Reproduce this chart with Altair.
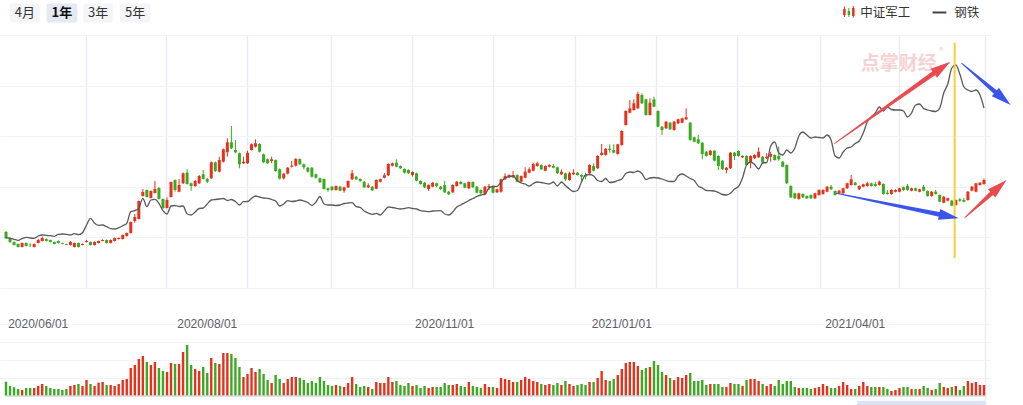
import math
import numpy as np
import pandas as pd
import altair as alt

# ---------------- data ----------------
OPEN = [
    68, 62, 58, 56, 53, 57, 55.3, 53, 57, 59,
    61, 60, 58, 59, 57, 56, 55, 53, 57, 55,
    58, 58, 55, 57, 59, 60, 57, 59, 61, 61,
    64, 67, 79, 81, 104, 110, 102, 107, 112, 101,
    92, 103, 120, 108.3, 116.7, 127.3, 116.7, 114, 116.7, 125.7,
    121, 121.7, 137.7, 128.3, 138.3, 147.7, 157.7, 150, 146.7, 136.7,
    136.7, 150, 153.3, 156, 145.7, 140.7, 139, 140, 130.7, 121.7,
    126.3, 133.3, 134.3, 141, 135.7, 132.3, 132.3, 125.7, 121.7, 121,
    111.7, 113.3, 110, 113.3, 109.3, 112.7, 120.7, 123.3, 121, 118.3,
    112.7, 113.3, 111.3, 118.3, 122.3, 124.7, 134.3, 137.3, 134, 131,
    130, 125, 126.7, 119, 117.3, 111, 113.3, 116.7, 113.3, 115,
    108.3, 107.7, 114, 118, 116.7, 111.7, 118, 113.3, 110, 106,
    112.7, 114, 107.7, 108.3, 120.7, 122.7, 122.7, 125, 118.3, 122.3,
    127.3, 129.3, 134, 135, 129.3, 133.3, 134, 132.7, 125.7, 126.7,
    120, 125.7, 127.3, 125, 125, 126.7, 134, 131.7, 145, 145,
    151.3, 150, 146, 155, 175, 187.3, 190, 191.7, 205, 200.7,
    185, 200.7, 189, 173.3, 171.7, 177.3, 170, 176.7, 177.3, 180.7,
    177.3, 162.7, 160.7, 157.3, 148.3, 145, 149.3, 144, 139.3, 130,
    131.7, 147.3, 149, 142.7, 144, 137.3, 141.7, 142.7, 143.3, 141.7,
    143.3, 145, 144, 138.3, 135, 114, 106.7, 101, 106, 104,
    105, 101.7, 105, 106, 108.3, 113.3, 109, 106.7, 106.7, 111.7,
    115, 117.3, 110.7, 113.3, 114, 116.7, 116, 115, 116, 107.3,
    106, 108.3, 108.3, 112.7, 114, 109.3, 111.7, 108.3, 113.3, 109,
    104, 108.3, 105, 97.3, 99.3, 99.3, 95, 100.7, 100, 100,
    109.3, 108.3, 115, 116,
]
CLOSE = [
    61.7, 58, 55, 53, 57, 54, 54.7, 56, 60, 62,
    59, 58, 56, 57, 56.2, 55.3, 58, 57, 53, 56,
    59, 55, 58, 59, 60, 57, 60, 62, 62, 65,
    67, 78, 83, 99, 108, 103, 109, 111, 101, 92,
    100, 118, 110, 115, 126.7, 116, 114, 119, 124, 121,
    118.3, 137.7, 129, 140, 150.7, 157.7, 151.7, 147.7, 135.7, 138.3,
    147.3, 155.7, 156.7, 148.3, 137.7, 136.7, 140.7, 129, 121.3, 126.3,
    132.3, 134.3, 141, 135.7, 132.7, 128.3, 123.3, 122.3, 117.7, 111,
    110, 110, 114, 109.3, 112.7, 119, 126.7, 120.7, 119, 112.7,
    114.7, 109.7, 120, 120.7, 124.7, 136, 136.7, 133.3, 131.7, 127.3,
    126.7, 128, 119.3, 116, 112.7, 115, 117.3, 114, 111, 107.7,
    105.7, 115, 118.3, 116, 112.3, 118, 112.7, 107.3, 106.7, 113.3,
    114, 107.3, 110.7, 120.7, 124, 125, 125, 118.3, 124, 128.3,
    130.7, 136, 136.7, 130.7, 134, 135, 132.3, 126.7, 128.3, 120.7,
    126.7, 127.3, 125, 123.3, 123.3, 135, 129.3, 144, 147.3, 151.3,
    150, 147.3, 155.7, 169, 189, 191.7, 196.7, 206, 196.7, 185,
    197.3, 193.3, 173.3, 170, 178.3, 170.7, 178.3, 180.7, 181.7, 182.7,
    160, 158.3, 156.7, 146, 144, 149.3, 139.3, 134, 130.7, 132.3,
    147.3, 144, 144, 144, 135, 144, 145, 148.3, 137.3, 143.3,
    146, 140, 140.7, 133.3, 116.7, 102.7, 101.7, 106.7, 102.7, 101.7,
    101.7, 106.7, 110, 110, 113.3, 110.7, 105, 109.3, 111.7, 116.7,
    120.7, 115, 114, 115.7, 116.7, 114, 114, 118.3, 106, 106,
    110, 110, 111.7, 110, 110, 111.7, 109.3, 110.7, 109.3, 104,
    108.3, 106, 98.3, 103.3, 101.7, 94.3, 100, 99.3, 98.3, 108.3,
    113.3, 116.7, 117.3, 120,
]
HIGH = [
    69, 63, 58.5, 56.5, 57.5, 57.5, 56.7, 56.5, 61.3, 63.3,
    61.5, 60.5, 58.5, 59.5, 57.3, 56.3, 59, 57.5, 57.5, 56.5,
    60, 58.5, 58.5, 59.5, 60.7, 60.5, 60.5, 62.5, 62.5, 65.5,
    67.5, 78.5, 86, 99.5, 111, 110.5, 109.5, 119, 113, 101.5,
    102.7, 118.5, 120.5, 121, 127.5, 130.7, 117.5, 120, 125, 130,
    122, 138.5, 138.5, 143.3, 151.5, 161.7, 174, 160, 147.5, 143.3,
    149.3, 156.5, 160.7, 156.7, 146.5, 141.5, 143.3, 140.5, 131.5, 127,
    133, 139.3, 142, 141.5, 136.5, 133, 133, 126.5, 122.5, 121.5,
    112.3, 114, 114.5, 114, 113.3, 119.7, 130, 124, 121.7, 119,
    116.7, 114, 120.7, 121.5, 127, 136.7, 137.5, 140.7, 134.7, 131.7,
    130.7, 128.7, 127.3, 119.7, 118, 115.7, 118, 117.3, 114, 119.3,
    109, 115.7, 119, 119.3, 117.3, 118.7, 118.7, 114, 110.7, 114,
    116, 114.7, 111.3, 121.3, 126.7, 125.7, 129, 125.7, 124.7, 132.7,
    132.7, 137.3, 138.3, 135.7, 134.7, 135.7, 136, 133.3, 130.7, 127.3,
    128.3, 130.7, 128, 125.7, 127.3, 135.7, 136.7, 144.7, 156, 152,
    155.7, 155.7, 156.3, 169.7, 189.7, 200, 200.7, 208.3, 206.7, 201.3,
    201.7, 203.3, 189.7, 174, 179, 178, 179, 181.3, 182.3, 191.7,
    178, 163.3, 165, 158, 149, 150, 150, 144.7, 140, 133,
    148, 148, 149.7, 144.7, 144.7, 144.7, 145.7, 152.7, 144, 146.7,
    148.3, 145.7, 153.3, 139, 135.7, 114.7, 107.3, 107.3, 106.7, 104.7,
    105.7, 107.3, 110.7, 110.7, 114, 115, 109.7, 110, 112.3, 117.3,
    125, 118, 114.7, 116.3, 118.3, 117.3, 118.3, 119.5, 116.7, 110,
    110.7, 110.7, 112.3, 113.3, 116, 112.3, 112.3, 111.3, 115, 109.7,
    109, 110, 105.7, 104, 102.3, 100, 100.7, 102, 102, 109,
    114, 117.3, 118, 121.5,
]
LOW = [
    61, 57, 54.5, 52.5, 52.5, 53.5, 53, 52.5, 56.5, 58.5,
    58.5, 57.5, 55.5, 56.5, 55.8, 55, 54.5, 52.5, 52.5, 54.7,
    57.5, 54.5, 54.5, 56.5, 58.7, 56.5, 56.5, 58.5, 60.5, 60.5,
    63.5, 66.5, 77.3, 80.5, 103.5, 102.5, 101.5, 106.5, 100.5, 91,
    91.5, 102.5, 108.3, 107.8, 116, 115.5, 109.3, 113, 116, 120.5,
    117, 121, 128, 127.5, 137.5, 143.3, 151, 146.7, 131.7, 136,
    136, 149.5, 152.5, 147.5, 137, 136, 136.7, 128.5, 120.5, 120.5,
    125.5, 132.5, 133.5, 135, 130.7, 127.5, 122.5, 121.5, 117, 110.3,
    108.3, 109.3, 109.3, 108.7, 107.3, 112, 120, 120, 118.3, 112,
    112, 109, 110.7, 117.5, 121.5, 124, 133.5, 132.7, 131, 126.5,
    126, 123.3, 118.7, 115.3, 112, 109, 112.7, 112.7, 110, 107,
    105, 107, 113.3, 115.3, 111.7, 111, 112, 106.7, 106, 105.3,
    110, 106.7, 107, 107.3, 120, 122, 122, 117.7, 117.7, 121.7,
    126.7, 128.7, 133.3, 130, 128.7, 132.7, 131.7, 126, 125, 119,
    119.3, 125, 124.3, 118.3, 120.7, 126, 128.7, 131, 144.3, 144.3,
    147.3, 146.7, 145.3, 154.3, 174.3, 186.7, 189.3, 191, 196, 184.3,
    184.3, 192.7, 172.7, 165, 171, 170, 169.3, 176, 176.7, 180,
    159.3, 157.7, 156, 140.7, 143.3, 144.3, 138.7, 130, 130, 126.7,
    131, 140, 143.3, 142, 134.3, 131.7, 141, 142, 136.7, 141,
    138.3, 139.3, 139.3, 132.7, 116, 102, 101, 100.3, 102, 101,
    101, 101, 104.3, 105.3, 107.7, 110, 104.3, 106, 106, 111,
    114.3, 114.3, 110, 112.7, 113.3, 113.3, 113.3, 114.3, 105.3, 105.3,
    105.3, 107.7, 107.7, 109.3, 109.3, 108.7, 108.7, 107.7, 108.7, 103.3,
    103.3, 105.3, 97.7, 96.7, 98.7, 93.7, 94.3, 98, 97.7, 99.3,
    108.7, 107.7, 114.3, 115.3,
]
STEEL = [
    62.3, 61.7, 60.7, 59.7, 61.3, 62.7, 62, 61.7, 64, 65,
    64.7, 64.3, 63.7, 65.7, 66, 65.7, 65, 66.3, 65.3, 67.3,
    75, 81.7, 76.7, 74.7, 75, 73.3, 71.3, 71, 72.3, 74.3,
    76.7, 88.3, 89.3, 91.7, 101.7, 93.3, 100, 100.7, 96.7, 89.3,
    86, 94, 94.5, 93.5, 94, 86, 85, 88, 91.5, 92,
    96, 100, 100.5, 101, 101.5, 99.5, 100.5, 98.5, 95, 98.3,
    98.5, 101.5, 104, 103, 102, 101.7, 100.5, 99, 94, 96,
    99.3, 98.5, 99, 100, 99, 97.5, 94.5, 98, 103.5, 96,
    95, 95, 94.5, 95, 96.5, 97, 97.3, 93.3, 92.7, 89,
    87, 85.7, 86.7, 85, 89, 93, 92.5, 91.7, 91, 91.5,
    92.3, 91.5, 91, 89.3, 88.8, 88.3, 89, 89.2, 89.3, 86,
    85, 88, 93, 95, 97.3, 99.5, 101.5, 103.5, 105, 105.7,
    112, 113.5, 113.5, 118, 122, 123.3, 124, 119.5, 117, 116,
    114, 116.5, 118, 117.5, 116.7, 116, 118, 114, 118, 114.5,
    111, 108.5, 109.5, 118, 125, 125.5, 124, 119.5, 118.5, 121.5,
    117.5, 118, 119.5, 121, 126.5, 128, 127.5, 129, 126.5, 120.5,
    122, 122.5, 122, 121, 119.5, 118.5, 118.5, 124, 126, 124,
    121.5, 119.5, 114, 112, 109.5, 109.3, 109, 107.5, 105.5, 105,
    106.7, 111, 113.5, 122, 135, 138, 135.5, 131, 137, 137.5,
    154, 158, 147, 145, 150, 147, 152, 164, 168, 165,
    162, 163, 162.5, 162, 165, 160, 144, 142, 148, 152,
    153, 156.5, 159, 167, 178, 183, 187, 193, 189, 193,
    190.5, 190, 190, 189, 183, 187, 195, 196, 191.5, 190,
    189, 188.5, 192, 207, 216, 232, 235, 226, 213, 210,
    208.5, 210, 205, 192,
]
VOLUME = [
    43, 30, 26, 21, 18, 24, 24, 24, 30, 36,
    30, 24, 21, 21, 18, 21, 30, 33, 36, 30,
    48, 36, 30, 40, 42, 33, 33, 30, 36, 48,
    51, 84, 93, 111, 120, 102, 93, 102, 84, 75,
    72, 99, 96, 96, 132, 153, 93, 81, 75, 87,
    69, 114, 99, 96, 129, 129, 126, 114, 87, 57,
    66, 84, 72, 81, 66, 48, 39, 63, 51, 39,
    51, 57, 57, 54, 48, 39, 45, 39, 57, 45,
    33, 30, 33, 30, 27, 39, 57, 36, 27, 30,
    27, 21, 42, 39, 39, 57, 42, 45, 33, 30,
    39, 30, 33, 24, 30, 24, 27, 27, 27, 39,
    33, 33, 36, 30, 27, 42, 30, 27, 24, 36,
    27, 27, 24, 54, 51, 48,
    42, 42, 48, 57, 51, 45, 42, 36, 33, 36,
    33, 39, 33, 45, 36, 30, 33, 36, 33, 42,
    42, 54, 75, 48, 45, 51, 63, 81, 99, 102,
    102, 90, 78, 84, 87, 105, 93, 72, 63, 54,
    48, 57, 54, 63, 69, 45, 45, 48, 33, 36,
    36, 36, 27, 27, 39, 36, 36, 30, 48, 51,
    51, 45, 36, 30, 36, 30, 48, 36, 45, 45,
    27, 24, 24, 24, 21, 24, 27, 36, 30, 24,
    24, 30, 42, 33, 21, 21, 30, 42, 30, 27,
    27, 27, 27, 21, 15, 18, 24, 27, 27, 21,
    21, 21, 30, 24, 18, 21, 39, 27, 24, 27,
    30, 18, 30, 45, 39, 42, 33, 33,
]
DATE_LABELS = ["2020/06/01", "2020/08/01", "2020/11/01", "2021/01/01", "2021/04/01"]
DATE_IDX = [8, 50, 109, 153, 211]
GRID_X = [19.9, 39.8, 60.0, 80.7, 100.8, 121.0, 141.4, 161.6, 181.7, 202.2, 221.8, 243.25]
GRID_Y = [12, 62.6, 113.2, 163.8, 214.4, 265]
GRID_V = [54, 108, 162, 216]

RANGE_BUTTONS = ["4月", "1年", "3年", "5年"]
SERIES_NAMES = ["中证军工", "钢铁"]

# annotation arrows (candle index, price units)
ARROW_X0 = [205.9, 237.5, 206.3, 238.3]
ARROW_Y0 = [156.7, 236.7, 106.7, 82.7]
ARROW_X1 = [234.6, 249.6, 236.7, 248.6]
ARROW_Y1 = [238.3, 195.0, 81.7, 120.0]
ARROW_KIND = ["red", "blue", "blue", "red"]
MARK_IDX = 235.7
MARK_Y = [41.7, 257.3]

N = len(OPEN)
for arr in (CLOSE, HIGH, LOW, STEEL, VOLUME):
    assert len(arr) == N, len(arr)

# ---------------- styling ----------------
RED = "#e6321c"
GREEN = "#3ba922"
LINE_C = "#5a5a5a"
ARROW_COL = {"red": "#ea4b4f", "blue": "#3b55ec"}
YELLOW = "#f5cf3a"
W = 990
HEAD_H = 35
MAIN_H = 253
VOL_H = 117
X_DOMAIN = [-0.25, 243.25]
Y_DOMAIN = [12, 265]
V_DOMAIN = [-27, 324]
FONT_CN = "Noto Sans CJK SC"

df = pd.DataFrame(dict(idx=np.arange(N), open=OPEN, close=CLOSE, high=HIGH,
                       low=LOW, steel=STEEL, vol=VOLUME))
df["dir"] = np.where(df["close"] >= df["open"], "up", "down")

xs = alt.Scale(domain=X_DOMAIN, nice=False, zero=False)
ys = alt.Scale(domain=Y_DOMAIN, nice=False, zero=False)
vs = alt.Scale(domain=V_DOMAIN, nice=False, zero=False)
color = alt.Color("dir:N", scale=alt.Scale(domain=["up", "down"], range=[RED, GREEN]), legend=None)


def xaxis(values):
    return alt.Axis(values=values, grid=True, gridColor="#e8ecf2", gridWidth=1.5,
                    labels=False, ticks=False, domain=False, title=None)


def yaxis(values):
    return alt.Axis(values=values, grid=True, gridColor="#f1f2f4", gridWidth=1,
                    labels=False, ticks=False, domain=False, title=None)


X_MAIN = alt.X("idx:Q", scale=xs, axis=xaxis(GRID_X))

# ---------------- main panel ----------------
base = alt.Chart(df)
wicks = base.mark_rule(strokeWidth=1).encode(
    x=X_MAIN, y=alt.Y("low:Q", scale=ys, axis=yaxis(GRID_Y)), y2="high:Q", color=color)
bodies = base.mark_bar(size=3).encode(
    x=X_MAIN, y=alt.Y("open:Q", scale=ys, axis=yaxis(GRID_Y)), y2="close:Q", color=color)
steel = base.mark_line(color=LINE_C, strokeWidth=1.3, interpolate="monotone").encode(
    x=X_MAIN, y=alt.Y("steel:Q", scale=ys, axis=yaxis(GRID_Y)))

wm_df = pd.DataFrame(dict(x=[221.8, 232.4], y=[236, 248], t=["点掌财经", "®"], s=[19, 8]))
watermark = alt.Chart(wm_df).mark_text(font=FONT_CN, fontWeight="bold", color="#f6d2d2",
                                       baseline="middle", align="center").encode(
    x=alt.X("x:Q", scale=xs, axis=xaxis(GRID_X)),
    y=alt.Y("y:Q", scale=ys, axis=yaxis(GRID_Y)),
    text="t:N", size=alt.Size("s:Q", scale=None, legend=None))

mark_df = pd.DataFrame(dict(x=[MARK_IDX], y=[MARK_Y[0]], y2=[MARK_Y[1]]))
yellow = alt.Chart(mark_df).mark_rule(color=YELLOW, strokeWidth=2).encode(
    x=alt.X("x:Q", scale=xs, axis=xaxis(GRID_X)),
    y=alt.Y("y:Q", scale=ys, axis=yaxis(GRID_Y)), y2="y2:Q")

kx = W / (X_DOMAIN[1] - X_DOMAIN[0])
ky = MAIN_H / (Y_DOMAIN[1] - Y_DOMAIN[0])
HEAD_LEN = 20
trail_rows, head_rows = [], []
for a, (x0, y0, x1, y1, kind) in enumerate(zip(ARROW_X0, ARROW_Y0, ARROW_X1, ARROW_Y1, ARROW_KIND)):
    dx, dy = (x1 - x0) * kx, (y1 - y0) * ky
    L = math.hypot(dx, dy)
    ux, uy = dx / L, dy / L
    bx, by = x1 - ux * HEAD_LEN * 0.75 / kx, y1 - uy * HEAD_LEN * 0.75 / ky
    trail_rows.append(dict(aid=a, k=0, x=x0, y=y0, w=1.0, kind=kind))
    trail_rows.append(dict(aid=a, k=1, x=bx, y=by, w=5.0, kind=kind))
    hx, hy = x1 - ux * HEAD_LEN / 2 / kx, y1 - uy * HEAD_LEN / 2 / ky
    ang = math.degrees(math.atan2(dx, dy)) % 360
    head_rows.append(dict(x=hx, y=hy, ang=ang, kind=kind))
trail_df = pd.DataFrame(trail_rows)
head_df = pd.DataFrame(head_rows)

arrow_layers = []
for kind, col in ARROW_COL.items():
    tr = alt.Chart(trail_df[trail_df.kind == kind]).mark_trail(color=col).encode(
        x=alt.X("x:Q", scale=xs, axis=xaxis(GRID_X)),
        y=alt.Y("y:Q", scale=ys, axis=yaxis(GRID_Y)),
        size=alt.Size("w:Q", scale=None, legend=None),
        detail="aid:N", order="k:Q")
    hd = alt.Chart(head_df[head_df.kind == kind]).mark_point(
        shape="M0,-1L0.55,1L-0.55,1Z", filled=True, size=HEAD_LEN ** 2, opacity=1,
        color=col, strokeWidth=0).encode(
        x=alt.X("x:Q", scale=xs, axis=xaxis(GRID_X)),
        y=alt.Y("y:Q", scale=ys, axis=yaxis(GRID_Y)),
        angle=alt.Angle("ang:Q", scale=None))
    arrow_layers += [tr, hd]

main = alt.layer(watermark, wicks, bodies, steel, yellow, *arrow_layers).resolve_scale(
    size="independent").properties(width=W, height=MAIN_H)

# ---------------- volume panel ----------------
X_VOL = alt.X("idx:Q", scale=xs, axis=xaxis([243.25]))
vol_bars = alt.Chart(df).mark_bar(size=2.4).encode(
    x=X_VOL, y=alt.Y("vol:Q", scale=vs, axis=yaxis(GRID_V)), y2=alt.datum(0), color=color)

base_df = pd.DataFrame(dict(x=[X_DOMAIN[0]], x2=[X_DOMAIN[1]], y=[0]))
baseline = alt.Chart(base_df).mark_rule(color="#d3d6db", strokeWidth=1.5).encode(
    x=alt.X("x:Q", scale=xs, axis=xaxis([243.25])), x2="x2:Q",
    y=alt.Y("y:Q", scale=vs, axis=yaxis(GRID_V)))

lab_df = pd.DataFrame(dict(idx=DATE_IDX, t=DATE_LABELS, y=[216] * len(DATE_IDX)))
labels = alt.Chart(lab_df).mark_text(font="Liberation Sans", fontSize=12, color="#5b5e66",
                                     baseline="middle", align="center").encode(
    x=X_VOL, y=alt.Y("y:Q", scale=vs, axis=yaxis(GRID_V)), text="t:N")

slider_df = pd.DataFrame(dict(x=[211.5], x2=[X_DOMAIN[1]], y=[-27], y2=[-14]))
slider = alt.Chart(slider_df).mark_rect(color="#dbe2f1").encode(
    x=alt.X("x:Q", scale=xs, axis=xaxis([243.25])), x2="x2:Q",
    y=alt.Y("y:Q", scale=vs, axis=yaxis(GRID_V)), y2="y2:Q")

volume = alt.layer(slider, vol_bars, baseline, labels).properties(width=W, height=VOL_H)

# ---------------- header (range buttons + legend) ----------------
hx = alt.Scale(domain=[0, W], nice=False, zero=False)
hy = alt.Scale(domain=[HEAD_H, 0], nice=False, zero=False)
btn_df = pd.DataFrame(dict(
    t=RANGE_BUTTONS, x0=[5, 42, 79, 116], x1=[35, 73, 109, 147],
    sel=[False, True, False, False], y0=[3.5] * 4, y1=[22.5] * 4))
btn_df["xc"] = (btn_df.x0 + btn_df.x1) / 2
btn_df["yc"] = 13
btn_df["fill"] = np.where(btn_df.sel, "#e4e9f4", "#f4f5f7")

btn_rect = alt.Chart(btn_df).mark_rect(cornerRadius=2).encode(
    x=alt.X("x0:Q", scale=hx, axis=None), x2="x1:Q",
    y=alt.Y("y0:Q", scale=hy, axis=None), y2="y1:Q",
    color=alt.Color("fill:N", scale=None))
btn_txt = alt.Chart(btn_df[~btn_df.sel]).mark_text(font=FONT_CN, fontSize=13, color="#333",
                                                    baseline="middle").encode(
    x=alt.X("xc:Q", scale=hx, axis=None), y=alt.Y("yc:Q", scale=hy, axis=None), text="t:N")
btn_txt_sel = alt.Chart(btn_df[btn_df.sel]).mark_text(font=FONT_CN, fontSize=13, color="#111",
                                                       fontWeight="bold", baseline="middle").encode(
    x=alt.X("xc:Q", scale=hx, axis=None), y=alt.Y("yc:Q", scale=hy, axis=None), text="t:N")

icon_df = pd.DataFrame(dict(x=[848, 852.5, 857], b0=[9, 11, 8], b1=[15, 15, 16],
                            w0=[6.5, 8, 6], w1=[17, 17, 17.5], c=[RED, GREEN, RED]))
icon_wick = alt.Chart(icon_df).mark_rule(strokeWidth=1).encode(
    x=alt.X("x:Q", scale=hx, axis=None), y=alt.Y("w0:Q", scale=hy, axis=None), y2="w1:Q",
    color=alt.Color("c:N", scale=None))
icon_body = alt.Chart(icon_df).mark_bar(size=2.5).encode(
    x=alt.X("x:Q", scale=hx, axis=None), y=alt.Y("b0:Q", scale=hy, axis=None), y2="b1:Q",
    color=alt.Color("c:N", scale=None))
leg_line_df = pd.DataFrame(dict(x=[937], x2=[951], y=[12.5]))
leg_line = alt.Chart(leg_line_df).mark_rule(color="#444", strokeWidth=2).encode(
    x=alt.X("x:Q", scale=hx, axis=None), x2="x2:Q", y=alt.Y("y:Q", scale=hy, axis=None))
leg_txt_df = pd.DataFrame(dict(x=[864, 959], y=[12.5, 12.5], t=SERIES_NAMES))
leg_txt = alt.Chart(leg_txt_df).mark_text(font=FONT_CN, fontSize=12.5, color="#333",
                                          align="left", baseline="middle").encode(
    x=alt.X("x:Q", scale=hx, axis=None), y=alt.Y("y:Q", scale=hy, axis=None), text="t:N")

header = alt.layer(btn_rect, btn_txt, btn_txt_sel, icon_wick, icon_body, leg_line, leg_txt).properties(
    width=W, height=HEAD_H)

chart = alt.vconcat(header, main, volume, spacing=0, bounds="flush").resolve_scale(
    x="independent", y="independent", color="independent", size="independent", angle="independent"
).configure_view(stroke=None).properties(padding=0, background="white")

chart.save("out.html", embed_options={"renderer": "svg", "actions": False})
